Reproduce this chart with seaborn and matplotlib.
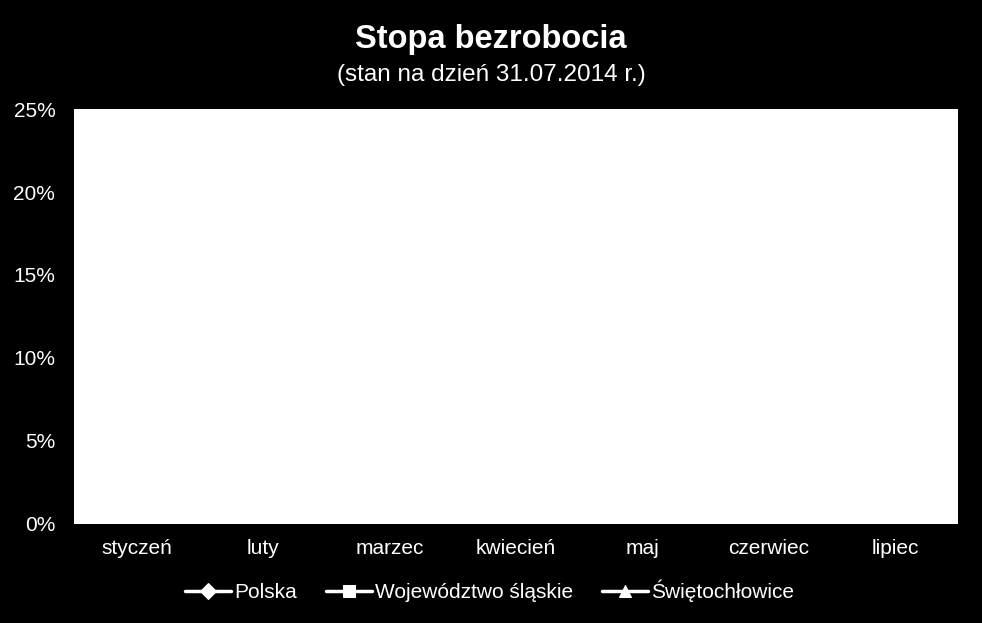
import matplotlib
matplotlib.use('Agg')
import matplotlib.pyplot as plt
import pandas as pd
import seaborn as sns

# Data (lines are drawn in white on a white plot area, as in the original)
months = ['styczeń', 'luty', 'marzec', 'kwiecień', 'maj', 'czerwiec', 'lipiec']
polska = [14.0, 13.9, 13.5, 13.0, 12.5, 12.0, 11.9]
slaskie = [11.1, 11.1, 10.8, 10.4, 10.0, 9.7, 9.6]
swietochlowice = [21.6, 21.6, 21.3, 20.8, 20.3, 19.8, 19.7]

series_names = ['Polska', 'Województwo śląskie', 'Świętochłowice']
series_values = [polska, slaskie, swietochlowice]
series_markers = ['D', 's', '^']

sns.set_style('white')
plt.rcParams['font.family'] = ['Liberation Sans', 'DejaVu Sans']

fig = plt.figure(figsize=(9.82, 6.23), dpi=100, facecolor='black')
ax = fig.add_axes([0.0754, 0.159, 0.9002, 0.666])
ax.set_facecolor('white')

for name, vals, mk in zip(series_names, series_values, series_markers):
    sns.lineplot(x=months, y=vals, ax=ax, sort=False, color='white',
                 marker=mk, markersize=8, markeredgecolor='white',
                 linewidth=2.5, label=name)

ax.set_xlim(-0.5, len(months) - 0.5)
ax.set_ylim(0, 25)
ax.set_yticks([0, 5, 10, 15, 20, 25])
ax.set_yticklabels([f'{v}%' for v in [0, 5, 10, 15, 20, 25]])
ax.tick_params(axis='both', colors='white', labelsize=15, length=0)
ax.tick_params(axis='y', pad=13.5)
ax.tick_params(axis='x', pad=11)
for s in ax.spines.values():
    s.set_visible(False)
ax.grid(False)
ax.set_xlabel('')
ax.set_ylabel('')

ax.get_legend().remove()
handles, labels = ax.get_legend_handles_labels()
fig.legend(handles, labels, loc='center', bbox_to_anchor=(0.4985, 0.051),
           ncol=3, frameon=False, labelcolor='white', fontsize=15,
           handlelength=2.2, handletextpad=0.15, columnspacing=1.4)

fig.text(0.5, 0.936, 'Stopa bezrobocia', color='white', fontsize=23.5,
         fontweight='bold', ha='center', va='center')
fig.text(0.5, 0.880, '(stan na dzień 31.07.2014 r.)', color='white',
         fontsize=17.5, ha='center', va='center')

fig.savefig('out.png', dpi=100, facecolor='black')
